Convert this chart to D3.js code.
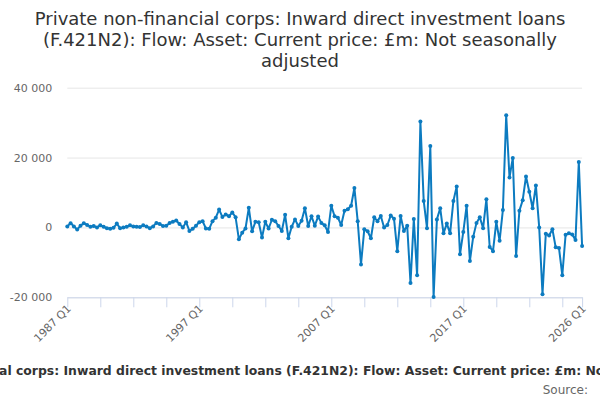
<!DOCTYPE html>
<html>
<head>
<meta charset="utf-8">
<script src="https://cdn.jsdelivr.net/npm/d3@7"></script>
<style>
  body { margin: 0; background: #fff; }
  svg { font-family: "DejaVu Sans", sans-serif; display: block; }
</style>
</head>
<body>
<svg id="chart" width="600" height="400"></svg>
<script>
// quarterly flows, £m, 1987 Q1 .. 2026 Q1
const startYear = 1987;
const values = [
  300, 1200, 300, -600, 500, 1200, 700, 200, 400, 0,
  600, 200, -200, -400, -100, 1100, -200, 0, 200, 600,
  300, 200, 100, 600, 300, -200, 300, 1300, 1000, 400,
  500, 1300, 1600, 2000, 1000, 0, 1500, -1000, -400, 500,
  1500, 1800, -300, -400, 1800, 2800, 5100, 3000, 3700, 3200,
  4300, 2900, -3400, -1500, -300, 5600, -1100, 1600, 1500, -2900,
  1600, -300, 2200, 1800, 400, -1000, 3600, -3100, 200, 2300,
  400, 1900, 5500, 400, 3200, 500, 3100, 1300, 600, -1300,
  6200, 3200, 2800, 700, 4800, 5200, 6200, 11300, 1800, -10600,
  -500, -1100, -3100, 2900, 1800, 3300, 0, 700, 3400, 2500,
  -6800, 3300, -1000, 500, -15900, 2400, -13700, 30300, 7600, -200,
  23300, -19900, 2300, 5500, -1700, 1100, -1700, 7600, 11700, -7700,
  -1300, 6200, -9600, -2700, 1300, 2900, -200, 8100, -5600, -6800,
  1600, -3800, 5000, 32100, 14300, 19900, -8200, 4800, 7800, 14600,
  10200, 5500, 12000, 0, -19100, -1800, -2300, -500, -5700, -5900,
  -13700, -2100, -1700, -2000, -3600, 18700, -5300
];
const categories = values.map((d, i) => `${startYear + Math.floor(i / 4)} Q${i % 4 + 1}`);
const labelledTicks = ["1987 Q1", "1997 Q1", "2007 Q1", "2017 Q1", "2026 Q1"];
const yTicks = [-20000, 0, 20000, 40000];

const titleLines = [
  "Private non-financial corps: Inward direct investment loans",
  "(F.421N2): Flow: Asset: Current price: £m: Not seasonally",
  "adjusted"
];
const caption = "Private non-financial corps: Inward direct investment loans (F.421N2): Flow: Asset: Current price: £m: Not seasonally adjusted";

const width = 600, height = 400;
const plotLeft = 67.3, plotRight = 582.1, plotTop = 87.7, plotBottom = 297.3;
const svg = d3.select("#chart");

const x = d3.scalePoint().domain(categories).range([plotLeft, plotRight]);
const y = d3.scaleLinear().domain([-20000, 40000]).range([plotBottom, plotTop]);

const fmt = d3.formatLocale({ decimal: ".", thousands: " ", grouping: [3], currency: ["£", ""], minus: "-" }).format(",");

// title
svg.append("text")
  .attr("text-anchor", "middle")
  .attr("fill", "#333")
  .style("font-size", "18px")
  .selectAll("tspan")
  .data(titleLines)
  .enter()
  .append("tspan")
  .attr("x", width / 2)
  .attr("y", (d, i) => 25 + i * 21)
  .text(d => d);

// y gridlines + labels
const yAxis = svg.append("g")
  .attr("transform", `translate(${plotLeft},0)`)
  .call(d3.axisLeft(y).tickValues(yTicks).tickSize(-(plotRight - plotLeft)).tickFormat(fmt).tickPadding(15));
yAxis.select(".domain").remove();
yAxis.selectAll(".tick line").attr("stroke", "#e6e6e6");
yAxis.selectAll(".tick text")
  .attr("fill", "#666")
  .style("font-size", "11px")
  .style("font-family", "DejaVu Sans, sans-serif");

// x axis, tick every 10 quarters
const tickCats = categories.filter((d, i) => i % 10 === 0 || i === categories.length - 1);
const xAxis = svg.append("g")
  .attr("transform", `translate(0,${plotBottom})`)
  .call(d3.axisBottom(x).tickValues(tickCats).tickSize(10).tickSizeOuter(0)
    .tickFormat(d => labelledTicks.includes(d) ? d : ""));
xAxis.select(".domain").attr("stroke", "#ccd6eb");
xAxis.selectAll(".tick line").attr("stroke", "#ccd6eb");
xAxis.selectAll(".tick text")
  .attr("fill", "#666")
  .style("font-size", "11px")
  .style("font-family", "DejaVu Sans, sans-serif")
  .attr("text-anchor", "end")
  .attr("y", 0)
  .attr("dy", 0)
  .attr("transform", "translate(4,12) rotate(-45)");

// series
const line = d3.line()
  .x((d, i) => x(categories[i]))
  .y(d => y(d));

svg.append("path")
  .datum(values)
  .attr("d", line)
  .attr("fill", "none")
  .attr("stroke", "#0c7bc0")
  .attr("stroke-width", 2)
  .attr("stroke-linejoin", "round");

svg.append("g")
  .selectAll("circle")
  .data(values)
  .enter()
  .append("circle")
  .attr("cx", (d, i) => x(categories[i]))
  .attr("cy", d => y(d))
  .attr("r", 2)
  .attr("fill", "#0c7bc0");

// caption + source (caption overflows the frame, as in the original)
svg.append("text")
  .attr("x", width / 2 + 10)
  .attr("y", 375)
  .attr("text-anchor", "middle")
  .attr("fill", "#333")
  .style("font-size", "12.4px")
  .style("font-weight", "bold")
  .text(caption);

svg.append("text")
  .attr("x", 588)
  .attr("y", 394)
  .attr("text-anchor", "end")
  .attr("fill", "#666")
  .style("font-size", "12px")
  .text("Source:");
</script>
</body>
</html>
